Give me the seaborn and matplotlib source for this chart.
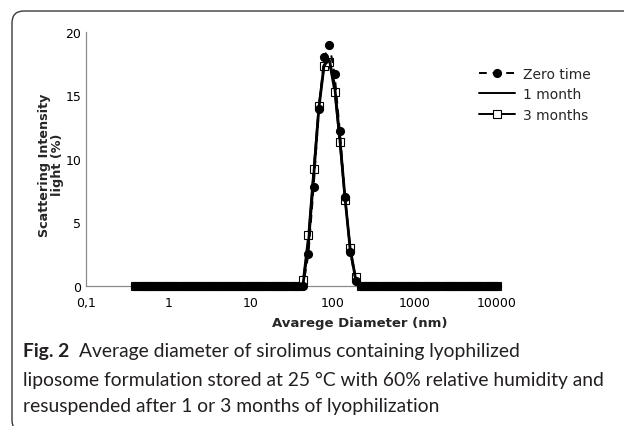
import matplotlib
matplotlib.use("Agg")
import matplotlib.pyplot as plt
import seaborn as sns
import pandas as pd
from matplotlib.patches import FancyBboxPatch
from matplotlib.transforms import IdentityTransform
from matplotlib.lines import Line2D
from matplotlib.ticker import NullLocator

# Clases de tamaño del equipo (nm)
diametro = [0.4, 0.4632, 0.5365, 0.6213, 0.7195, 0.8332, 0.9649, 1.117, 1.294, 1.499,
            1.736, 2.010, 2.328, 2.696, 3.122, 3.615, 4.187, 4.849, 5.615, 6.503,
            7.531, 8.721, 10.10, 11.70, 13.54, 15.69, 18.17, 21.04, 24.36, 28.21,
            32.67, 37.84, 43.82, 50.75, 58.77, 68.06, 78.82, 91.28, 105.7, 122.4,
            141.8, 164.2, 190.1, 220.2, 255.0, 295.3, 342.0, 396.1, 458.7, 531.2,
            615.1, 712.4, 825.0, 955.4, 1106, 1281, 1484, 1718, 1990, 2305,
            2669, 3091, 3580, 4145, 4801, 5560, 6439, 7456, 8635, 10000]

zero_time = [0, 0, 0, 0, 0, 0, 0, 0, 0, 0,
             0, 0, 0, 0, 0, 0, 0, 0, 0, 0,
             0, 0, 0, 0, 0, 0, 0, 0, 0, 0,
             0, 0, 0.0, 2.5, 7.8, 13.9, 18.0, 19.0, 16.7, 12.2,
             7.0, 2.7, 0.4, 0.0, 0, 0, 0, 0, 0, 0,
             0, 0, 0, 0, 0, 0, 0, 0, 0, 0,
             0, 0, 0, 0, 0, 0, 0, 0, 0, 0]

un_mes = [0, 0, 0, 0, 0, 0, 0, 0, 0, 0,
          0, 0, 0, 0, 0, 0, 0, 0, 0, 0,
          0, 0, 0, 0, 0, 0, 0, 0, 0, 0,
          0, 0, 0.2, 3.3, 8.6, 14.0, 17.4, 17.8, 15.8, 11.6,
          6.9, 2.8, 0.6, 0.0, 0, 0, 0, 0, 0, 0,
          0, 0, 0, 0, 0, 0, 0, 0, 0, 0,
          0, 0, 0, 0, 0, 0, 0, 0, 0, 0]

tres_meses = [0, 0, 0, 0, 0, 0, 0, 0, 0, 0,
              0, 0, 0, 0, 0, 0, 0, 0, 0, 0,
              0, 0, 0, 0, 0, 0, 0, 0, 0, 0,
              0, 0, 0.5, 4.0, 9.2, 14.2, 17.3, 17.6, 15.3, 11.3,
              6.8, 3.0, 0.7, 0.0, 0, 0, 0, 0, 0, 0,
              0, 0, 0, 0, 0, 0, 0, 0, 0, 0,
              0, 0, 0, 0, 0, 0, 0, 0, 0, 0]

etiquetas = ["Zero time", "1 month", "3 months"]
xticks = [0.1, 1, 10, 100, 1000, 10000]
xtick_labels = ["0,1", "1", "10", "100", "1000", "10000"]
yticks = [0, 5, 10, 15, 20]

df = pd.DataFrame({"diametro": diametro, "zero": zero_time,
                   "uno": un_mes, "tres": tres_meses})

sns.set_style("white")
plt.rcParams["font.family"] = ["DejaVu Sans"]

W, H = 624, 427
fig = plt.figure(figsize=(W / 100, H / 100), dpi=100)
ax = fig.add_axes([86 / W, 1 - 287 / H, (497 - 86) / W, (287 - 33) / H])

# 3 meses (debajo), 1 mes, tiempo cero (encima)
sns.lineplot(data=df, x="diametro", y="tres", ax=ax, estimator=None, sort=False,
             color="black", lw=1.5, marker="s", markersize=5.8, markerfacecolor="white",
             markeredgecolor="black", markeredgewidth=0.8, clip_on=False, zorder=2)
sns.lineplot(data=df, x="diametro", y="uno", ax=ax, estimator=None, sort=False,
             color="black", lw=2.0, clip_on=False, zorder=3)
sns.lineplot(data=df, x="diametro", y="zero", ax=ax, estimator=None, sort=False,
             color="black", lw=1.4, linestyle=(0, (4, 3)), marker="o", markersize=6.6,
             markeredgewidth=0, clip_on=False, zorder=4)

ax.set_xscale("log")
ax.set_xlim(0.1, 10000)
ax.set_ylim(0, 20)
ax.set_xticks(xticks)
ax.set_xticklabels(xtick_labels)
ax.xaxis.set_minor_locator(NullLocator())
ax.set_yticks(yticks)
ax.set_xlabel("")
ax.set_ylabel("")
for s in ["top", "right"]:
    ax.spines[s].set_visible(False)
for s in ["left", "bottom"]:
    ax.spines[s].set_color("#8c8c8c")
    ax.spines[s].set_linewidth(0.9)
ax.tick_params(axis="both", direction="out", length=2.5, width=0.8, color="#8c8c8c",
               labelsize=9, labelcolor="black")
ax.tick_params(axis="x", pad=5)
ax.tick_params(axis="y", pad=1)
ax.patch.set_alpha(0)

handles = [
    Line2D([], [], color="black", lw=1.4, linestyle=(0, (4, 3)), marker="o",
           markersize=6.6, markeredgewidth=0),
    Line2D([], [], color="black", lw=1.4),
    Line2D([], [], color="black", lw=1.4, marker="s", markersize=5.8,
           markerfacecolor="white", markeredgewidth=0.8),
]
fig.legend(handles, etiquetas, loc="upper left", bbox_to_anchor=(479 / W, 1 - 68 / H),
           frameon=False, fontsize=10, handlelength=2.6, handletextpad=0.6,
           labelspacing=0.45, borderaxespad=0, borderpad=0)

fig.text(360 / W, 1 - 324 / H, "Avarege Diameter (nm)", ha="center", va="center",
         fontsize=9.5, fontweight="bold")
fig.text(51 / W, 1 - 165 / H, "Scattering Intensity\nlight (%)", ha="center", va="center",
         rotation=90, fontsize=9.2, fontweight="bold", multialignment="center",
         linespacing=1.05)

# Pie de figura
cap_font = ["Lato", "DejaVu Sans"]
cap_size = 13.9
t_bold = fig.text(23 / W, 1 - 352 / H, "Fig. 2", ha="left", va="center", fontsize=cap_size,
                  fontweight="bold", family=cap_font, color="#231f20")
fig.canvas.draw()
bb = t_bold.get_window_extent()
fig.text((bb.x1 + 10) / W, 1 - 352 / H,
         "Average diameter of sirolimus containing lyophilized",
         ha="left", va="center", fontsize=cap_size, family=cap_font, color="#231f20")
fig.text(23 / W, 1 - 380 / H,
         "liposome formulation stored at 25 °C with 60% relative humidity and",
         ha="left", va="center", fontsize=cap_size, family=cap_font, color="#231f20")
fig.text(23 / W, 1 - 407 / H,
         "resuspended after 1 or 3 months of lyophilization",
         ha="left", va="center", fontsize=cap_size, family=cap_font, color="#231f20")

# Marco redondeado
marco = FancyBboxPatch((12, -6), 700, H - 12 + 6, boxstyle="round,pad=0,rounding_size=12",
                       transform=IdentityTransform(), fill=False, ec="#3a3a3a", lw=1.0)
fig.add_artist(marco)

fig.savefig("out.png", dpi=100)
